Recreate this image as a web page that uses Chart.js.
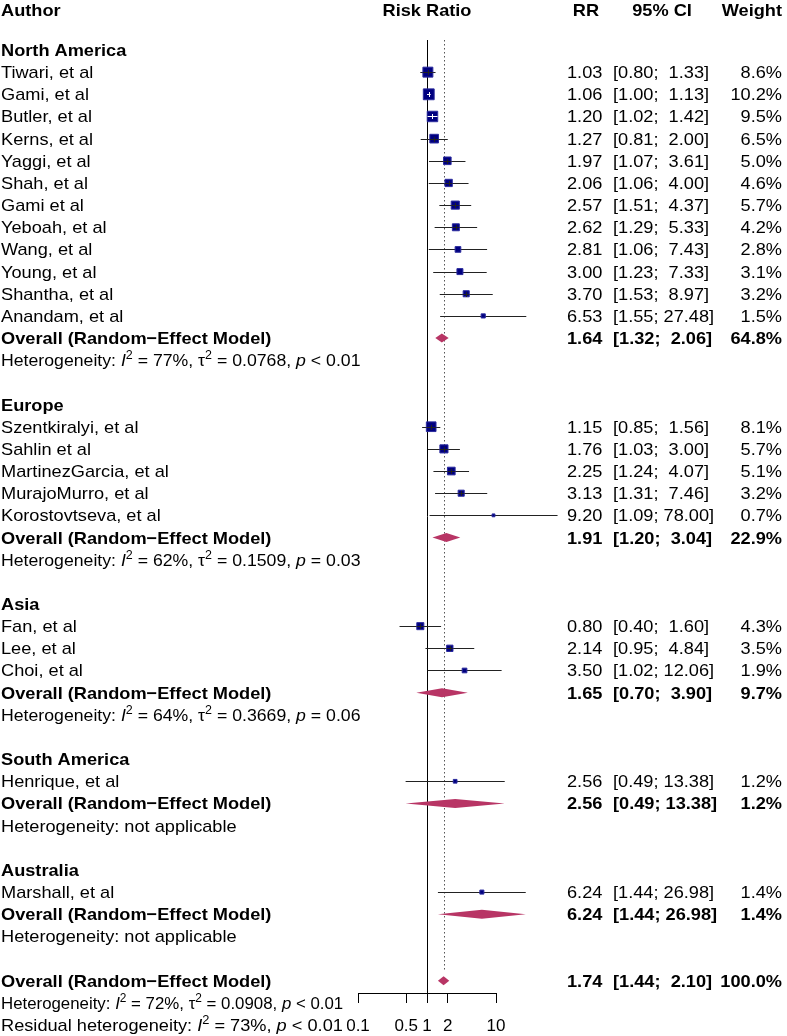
<!DOCTYPE html>
<html>
<head>
<meta charset="UTF-8">
<title>Forest plot - Risk Ratio</title>
<script src="https://cdn.jsdelivr.net/npm/chart.js@4.4.0/dist/chart.umd.min.js"></script>
<style>
  html, body { margin: 0; padding: 0; background: #fff; }
  #wrap { width: 787px; height: 1036px; position: relative; }
</style>
</head>
<body>
<div id="wrap"><canvas id="forest" width="787" height="1036"></canvas></div>
<script>
// ---- values ----
var studyNames = ["Tiwari, et al", "Gami, et al", "Butler, et al", "Kerns, et al", "Yaggi, et al",
  "Shah, et al", "Gami et al", "Yeboah, et al", "Wang, et al", "Young, et al", "Shantha, et al",
  "Anandam, et al",
  "Szentkiralyi, et al", "Sahlin et al", "MartinezGarcia, et al", "MurajoMurro, et al", "Korostovtseva, et al",
  "Fan, et al", "Lee, et al", "Choi, et al",
  "Henrique, et al",
  "Marshall, et al"];
var studyRR = [1.03, 1.06, 1.20, 1.27, 1.97, 2.06, 2.57, 2.62, 2.81, 3.00, 3.70, 6.53,
  1.15, 1.76, 2.25, 3.13, 9.20,
  0.80, 2.14, 3.50,
  2.56,
  6.24];
var studyLo = [0.80, 1.00, 1.02, 0.81, 1.07, 1.06, 1.51, 1.29, 1.06, 1.23, 1.53, 1.55,
  0.85, 1.03, 1.24, 1.31, 1.09,
  0.40, 0.95, 1.02,
  0.49,
  1.44];
var studyHi = [1.33, 1.13, 1.42, 2.00, 3.61, 4.00, 4.37, 5.33, 7.43, 7.33, 8.97, 27.48,
  1.56, 3.00, 4.07, 7.46, 78.00,
  1.60, 4.84, 12.06,
  13.38,
  26.98];
var studyWeight = [8.6, 10.2, 9.5, 6.5, 5.0, 4.6, 5.7, 4.2, 2.8, 3.1, 3.2, 1.5,
  8.1, 5.7, 5.1, 3.2, 0.7,
  4.3, 3.5, 1.9,
  1.2,
  1.4];
var studyGroup = [0,0,0,0,0,0,0,0,0,0,0,0, 1,1,1,1,1, 2,2,2, 3, 4];

var groupNames = ["North America", "Europe", "Asia", "South America", "Australia"];
var groupRR = [1.64, 1.91, 1.65, 2.56, 6.24];
var groupLo = [1.32, 1.20, 0.70, 0.49, 1.44];
var groupHi = [2.06, 3.04, 3.90, 13.38, 26.98];
var groupWeight = [64.8, 22.9, 9.7, 1.2, 1.4];
var groupI2 = ["77%", "62%", "64%", null, null];
var groupTau2 = ["0.0768", "0.1509", "0.3669", null, null];
var groupP = ["< 0.01", "= 0.03", "= 0.06", null, null];

var overallRR = 1.74, overallLo = 1.44, overallHi = 2.10, overallWeight = 100.0;
var overallI2 = "72%", overallTau2 = "0.0908", overallP = "< 0.01";
var residualI2 = "73%", residualP = "< 0.01";

var axisTicks = [0.1, 0.5, 1, 2, 10];
var modelLabel = "Overall (Random\u2212Effect Model)";

// ---- row layout (one row per text line) ----
var r = 2;
var studyRow = [], groupRow = [], groupOverallRow = [], groupHetRow = [];
groupNames.forEach(function(g, gi) {
  groupRow[gi] = r++;
  studyNames.forEach(function(s, si) { if (studyGroup[si] === gi) studyRow[si] = r++; });
  groupOverallRow[gi] = r++;
  groupHetRow[gi] = r++;
  r++;
});
var overallRow = r++, overallHetRow = r++, residualRow = r++;

var FONT = '"Liberation Sans", Arial, Helvetica, sans-serif';
var SX = 1.07;       // text is a little wide in the original
var SQUARE = '#00007F', SQUARE_EDGE = '#2b2b9e', DIAMOND = '#B83565';

function fmt2(v) { return v.toFixed(2); }
function ciText(lo, hi) { return "[" + fmt2(lo) + "; " + (hi < 10 ? " " : "") + fmt2(hi) + "]"; }
function boxSide(w) { return 3.4 * Math.sqrt(w); }

function put(ctx, str, x, y, align, bold, italic, size, sx) {
  ctx.save();
  ctx.font = (italic ? 'italic ' : '') + (bold ? 'bold ' : '') + (size || 17) + 'px ' + FONT;
  ctx.textAlign = align || 'left';
  ctx.textBaseline = 'alphabetic';
  ctx.translate(x, y);
  ctx.scale(sx || SX, 1);
  ctx.fillText(str, 0, 0);
  var w = ctx.measureText(str).width * (sx || SX);
  ctx.restore();
  return w;
}

// segments: [text, kind] where kind = '', 'i' (italic) or 's' (superscript)
function putRich(ctx, segs, x, y, sx) {
  segs.forEach(function(s) {
    if (s[1] === 's') x += put(ctx, s[0], x, y - 7, 'left', false, false, 12, sx);
    else x += put(ctx, s[0], x, y, 'left', false, s[1] === 'i', 17, sx);
  });
}
function hetSegs(i2, tau2, p) {
  return [["Heterogeneity: ", ""], ["I", "i"], ["2", "s"], [" = " + i2 + ", ", ""], ["\u03C4", ""], ["2", "s"],
          [" = " + tau2 + ", ", ""], ["p", "i"], [" " + p, ""]];
}

var studyPoints = studyRR.map(function(v, i) { return { x: v, y: studyRow[i] }; });

var forestPlugin = {
  id: 'forest',
  beforeDatasetsDraw: function(chart) {
    var ctx = chart.ctx, xs = chart.scales.x, ys = chart.scales.y, ca = chart.chartArea;
    ctx.save();
    // line of no effect
    var x1 = Math.round(xs.getPixelForValue(1)) + 0.5;
    ctx.strokeStyle = '#000'; ctx.lineWidth = 1;
    ctx.beginPath(); ctx.moveTo(x1, ca.top); ctx.lineTo(x1, ca.bottom); ctx.stroke();
    // overall estimate, dotted
    var xo = Math.round(xs.getPixelForValue(overallRR)) + 0.5;
    ctx.strokeStyle = '#555'; ctx.setLineDash([1.5, 2.5]);
    ctx.beginPath(); ctx.moveTo(xo, ca.top); ctx.lineTo(xo, ys.getPixelForValue(overallRow - 0.4)); ctx.stroke();
    ctx.setLineDash([]);
    // confidence intervals
    ctx.strokeStyle = '#222'; ctx.lineWidth = 1;
    studyRR.forEach(function(v, i) {
      var y = Math.round(ys.getPixelForValue(studyRow[i])) + 0.5;
      ctx.beginPath();
      ctx.moveTo(xs.getPixelForValue(studyLo[i]), y);
      ctx.lineTo(xs.getPixelForValue(studyHi[i]), y);
      ctx.stroke();
    });
    // summary diamonds
    function diamond(est, lo, hi, row) {
      var y = ys.getPixelForValue(row), h = 4.5;
      ctx.fillStyle = DIAMOND;
      ctx.beginPath();
      ctx.moveTo(xs.getPixelForValue(lo), y);
      ctx.lineTo(xs.getPixelForValue(est), y - h);
      ctx.lineTo(xs.getPixelForValue(hi), y);
      ctx.lineTo(xs.getPixelForValue(est), y + h);
      ctx.closePath(); ctx.fill();
    }
    groupRR.forEach(function(v, gi) { diamond(v, groupLo[gi], groupHi[gi], groupOverallRow[gi]); });
    diamond(overallRR, overallLo, overallHi, overallRow);
    ctx.restore();
  },
  afterDatasetsDraw: function(chart) {
    var ctx = chart.ctx, xs = chart.scales.x, ys = chart.scales.y;
    ctx.save();
    ctx.lineWidth = 1;
    studyRR.forEach(function(v, i) {
      var half = boxSide(studyWeight[i]) / 2;
      var cx = xs.getPixelForValue(v), y = Math.round(ys.getPixelForValue(studyRow[i])) + 0.5;
      var lo = xs.getPixelForValue(studyLo[i]), hi = xs.getPixelForValue(studyHi[i]);
      if (half < 3) return;
      var inside = lo >= cx - half && hi <= cx + half;
      ctx.strokeStyle = inside ? '#fff' : '#222';
      ctx.beginPath();
      ctx.moveTo(Math.max(lo, cx - half), y); ctx.lineTo(Math.min(hi, cx + half), y);
      ctx.moveTo(Math.round(cx) + 0.5, y - 2.5); ctx.lineTo(Math.round(cx) + 0.5, y + 2.5);
      ctx.stroke();
    });
    ctx.restore();
  },
  afterDraw: function(chart) {
    var ctx = chart.ctx, xs = chart.scales.x, ys = chart.scales.y;
    ctx.save();
    ctx.fillStyle = '#000';
    function by(row) { return ys.getPixelForValue(row) + 6; }
    var xAuthor = 1, xRR = 567, xCI = 613, xW = 782;

    // header
    var hy = by(0.2);
    put(ctx, "Author", xAuthor, hy, 'left', true);
    put(ctx, "Risk Ratio", xs.getPixelForValue(1), hy, 'center', true);
    put(ctx, "RR", 586, hy, 'center', true);
    put(ctx, "95% CI", 662, hy, 'center', true);
    put(ctx, "Weight", xW, hy, 'right', true);

    function valueRow(row, est, lo, hi, w, bold) {
      put(ctx, fmt2(est), xRR, by(row), 'left', bold);
      put(ctx, ciText(lo, hi), xCI, by(row), 'left', bold);
      put(ctx, w.toFixed(1) + "%", xW, by(row), 'right', bold);
    }

    groupNames.forEach(function(g, gi) {
      put(ctx, g, xAuthor, by(groupRow[gi]), 'left', true);
      put(ctx, modelLabel, xAuthor, by(groupOverallRow[gi]), 'left', true);
      valueRow(groupOverallRow[gi], groupRR[gi], groupLo[gi], groupHi[gi], groupWeight[gi], true);
      if (groupI2[gi]) putRich(ctx, hetSegs(groupI2[gi], groupTau2[gi], groupP[gi]), xAuthor, by(groupHetRow[gi]), 1.04);
      else put(ctx, "Heterogeneity: not applicable", xAuthor, by(groupHetRow[gi]), 'left');
    });
    studyNames.forEach(function(s, i) {
      put(ctx, s, xAuthor, by(studyRow[i]), 'left');
      valueRow(studyRow[i], studyRR[i], studyLo[i], studyHi[i], studyWeight[i], false);
    });

    put(ctx, modelLabel, xAuthor, by(overallRow), 'left', true);
    valueRow(overallRow, overallRR, overallLo, overallHi, overallWeight, true);
    putRich(ctx, hetSegs(overallI2, overallTau2, overallP), xAuthor, by(overallHetRow), 0.99);
    putRich(ctx, [["Residual heterogeneity: ", ""], ["I", "i"], ["2", "s"], [" = " + residualI2 + ", ", ""],
                  ["p", "i"], [" " + residualP, ""]], xAuthor, by(residualRow));
    ctx.restore();
  }
};

var chart = new Chart(document.getElementById('forest'), {
  type: 'scatter',
  data: {
    datasets: [{
      data: studyPoints,
      pointStyle: 'rect',
      pointRadius: function(c) { return boxSide(studyWeight[c.dataIndex]) / Math.SQRT2; },
      backgroundColor: SQUARE,
      borderColor: SQUARE_EDGE,
      borderWidth: 1,
      clip: false
    }]
  },
  options: {
    responsive: false,
    animation: false,
    events: [],
    layout: { padding: { left: 358, right: 291, top: 40, bottom: 0 } },
    plugins: { legend: { display: false }, tooltip: { enabled: false } },
    scales: {
      x: {
        type: 'logarithmic',
        min: 0.1, max: 10,
        afterBuildTicks: function(s) { s.ticks = axisTicks.map(function(v) { return { value: v }; }); },
        afterFit: function(s) { s.height = 43; },
        grid: { drawOnChartArea: false, drawTicks: true, tickLength: 10, color: '#000', lineWidth: 1 },
        border: { display: true, color: '#000', width: 1 },
        ticks: {
          autoSkip: false, maxRotation: 0, minRotation: 0, padding: 13, color: '#000',
          font: { family: FONT, size: 17 },
          callback: function(v) { return String(v); }
        }
      },
      y: { type: 'linear', display: false, reverse: true, min: 1.549, max: 44.554 }
    }
  },
  plugins: [forestPlugin]
});
</script>
</body>
</html>
